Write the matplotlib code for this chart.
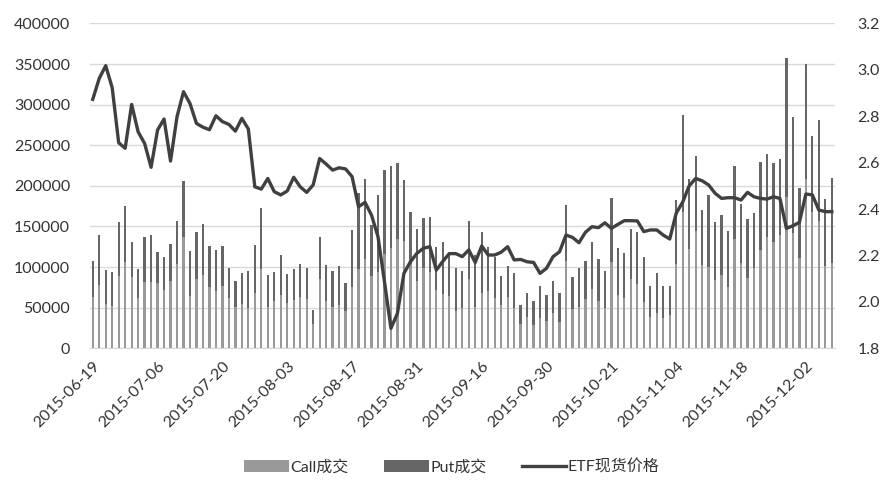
import numpy as np
import matplotlib
matplotlib.use("Agg")
import matplotlib.pyplot as plt
from matplotlib.ticker import FuncFormatter

# fonts: latin first, CJK fallback for the legend
plt.rcParams['font.family'] = ['Lato', 'Noto Sans CJK SC', 'DejaVu Sans']

# Call and Put volumes (contracts), one per trading day 2015-06-19 .. 2015-12-08
call_volume = [
    63000, 78000, 54000, 52000, 89000, 106000, 88000, 62000, 82000, 82000,
    81000, 72000, 83000, 104000, 137000, 64000, 85000, 90000, 75000, 71000,
    77000, 62000, 51000, 55000, 50000, 68000, 98000, 51000, 58000, 66000,
    56000, 59000, 63000, 61000, 30000, 85000, 58000, 51000, 53000, 46000,
    75000, 98000, 110000, 89000, 94000, 116000, 123000, 134000, 132000, 104000,
    83000, 99000, 94000, 72000, 67000, 65000, 46000, 50000, 85000, 51000,
    68000, 70000, 62000, 53000, 63000, 50000, 30000, 39000, 29000, 37000,
    34000, 43000, 32000, 107000, 48000, 51000, 61000, 73000, 58000, 50000,
    106000, 66000, 62000, 85000, 79000, 57000, 39000, 43000, 37000, 41000,
    104000, 168000, 122000, 144000, 103000, 100000, 84000, 90000, 75000, 134000,
    105000, 87000, 99000, 121000, 137000, 131000, 139000, 186000, 142000, 111000,
    208000, 168000, 157000, 101000, 105000,
]
total_volume = [
    107000, 139000, 96000, 94000, 155000, 175000, 131000, 98000, 137000, 139000,
    118000, 112000, 128000, 157000, 206000, 120000, 143000, 153000, 126000, 121000,
    126000, 99000, 83000, 93000, 95000, 127000, 173000, 90000, 94000, 115000,
    91000, 98000, 104000, 99000, 47000, 137000, 103000, 95000, 101000, 80000,
    146000, 191000, 209000, 152000, 189000, 219000, 224000, 228000, 207000, 168000,
    147000, 160000, 162000, 125000, 131000, 115000, 99000, 95000, 157000, 115000,
    143000, 125000, 112000, 89000, 101000, 93000, 53000, 68000, 58000, 77000,
    66000, 83000, 68000, 176000, 88000, 99000, 107000, 131000, 110000, 95000,
    185000, 123000, 117000, 147000, 143000, 112000, 77000, 93000, 77000, 77000,
    182000, 287000, 209000, 237000, 170000, 189000, 155000, 164000, 144000, 225000,
    178000, 159000, 166000, 229000, 239000, 228000, 233000, 357000, 285000, 197000,
    350000, 262000, 281000, 184000, 210000,
]
put_volume = [t - c for t, c in zip(total_volume, call_volume)]

# 50ETF spot price
etf_price = [
    2.873, 2.963, 3.018, 2.923, 2.686, 2.662, 2.851, 2.733, 2.683, 2.580,
    2.741, 2.788, 2.607, 2.798, 2.906, 2.855, 2.769, 2.753, 2.742, 2.802,
    2.777, 2.765, 2.736, 2.791, 2.745, 2.496, 2.486, 2.532, 2.475, 2.461,
    2.478, 2.537, 2.496, 2.472, 2.504, 2.618, 2.594, 2.568, 2.578, 2.573,
    2.540, 2.410, 2.429, 2.374, 2.281, 2.087, 1.886, 1.951, 2.123, 2.173,
    2.209, 2.231, 2.238, 2.137, 2.175, 2.208, 2.208, 2.195, 2.224, 2.170,
    2.241, 2.202, 2.202, 2.214, 2.238, 2.181, 2.183, 2.173, 2.170, 2.123,
    2.145, 2.195, 2.216, 2.288, 2.278, 2.255, 2.300, 2.324, 2.320, 2.341,
    2.317, 2.334, 2.350, 2.350, 2.349, 2.303, 2.310, 2.310, 2.288, 2.271,
    2.382, 2.430, 2.500, 2.532, 2.522, 2.504, 2.468, 2.446, 2.449, 2.449,
    2.439, 2.472, 2.453, 2.446, 2.443, 2.453, 2.446, 2.317, 2.328, 2.343,
    2.465, 2.461, 2.396, 2.389, 2.389,
]

# every 10th trading day is labelled
tick_labels = [
    '2015-06-19', '2015-07-06', '2015-07-20', '2015-08-03', '2015-08-17',
    '2015-08-31', '2015-09-16', '2015-09-30', '2015-10-21', '2015-11-04',
    '2015-11-18', '2015-12-02',
]

CALL_COLOR = '#999999'
PUT_COLOR = '#666666'
LINE_COLOR = '#404040'
GRID_COLOR = '#d9d9d9'

x = np.arange(len(total_volume))

fig = plt.figure(figsize=(8.95, 4.99), dpi=100)
ax = fig.add_axes([0.100, 0.302, 0.833, 0.651])
ax2 = ax.twinx()

ax.bar(x, call_volume, width=0.35, color=CALL_COLOR, label='Call成交', zorder=2)
ax.bar(x, put_volume, width=0.35, bottom=call_volume, color=PUT_COLOR,
       label='Put成交', zorder=2)
ax2.plot(x, etf_price, color=LINE_COLOR, linewidth=2.4, label='ETF现货价格',
         solid_joinstyle='round')

ax.set_xlim(-0.5, len(x) - 0.5)
ax.set_ylim(0, 400000)
ax.set_yticks(np.arange(0, 400001, 50000))
ax2.set_ylim(1.8, 3.2)
ax2.set_yticks(np.arange(1.8, 3.21, 0.2))
ax2.yaxis.set_major_formatter(FuncFormatter(lambda v, p: f'{v:.1f}'))

ax.grid(axis='y', color=GRID_COLOR, linewidth=1.0, zorder=0)
ax.set_axisbelow(True)

for a in (ax, ax2):
    for s in a.spines.values():
        s.set_visible(False)
    a.tick_params(length=0, labelsize=11.5, colors='#333333')
ax.spines['bottom'].set_visible(True)
ax.spines['bottom'].set_color(GRID_COLOR)

ax.tick_params(axis='y', pad=14)
ax2.tick_params(axis='y', pad=16)

ax.set_xticks(x[::10])
ax.set_xticklabels(tick_labels, rotation=45, ha='right', va='top',
                   rotation_mode='anchor')
ax.tick_params(axis='x', pad=8)

handles = ax.get_legend_handles_labels()[0] + ax2.get_legend_handles_labels()[0]
labels = ['Call成交', 'Put成交', 'ETF现货价格']
fig.legend(handles, labels, loc='center', bbox_to_anchor=(0.505, 0.064),
           ncol=3, frameon=False, fontsize=11.5, handlelength=2.8,
           handleheight=0.8, columnspacing=2.2, handletextpad=0.1,
           labelcolor='#333333')

fig.savefig('out.png', dpi=100)
